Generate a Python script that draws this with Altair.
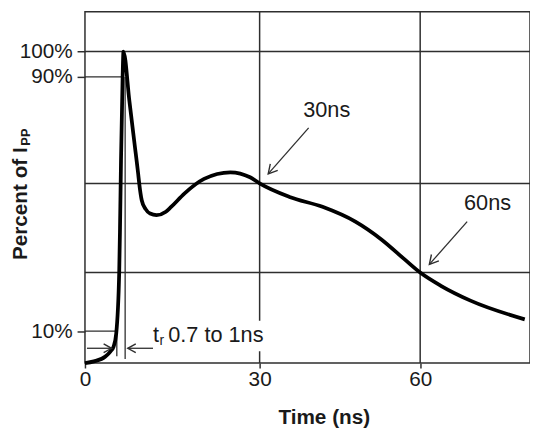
import altair as alt
import pandas as pd

# ---------------- data (time in ns, percent of Ipp) ----------------
curve_t = [0, 1.53, 3.51, 4.36, 4.92, 5.37, 5.88, 6.02, 6.19, 6.47, 6.61,
           7.64, 8.46, 9.14, 9.32, 9.75, 10.42, 11.19, 12.29, 13.9, 14.8,
           17.07, 20.46, 24.97, 28.36, 30, 35.59, 41.75, 47.89, 52.81, 57.10,
           60, 63.87, 69.39, 79.52]
curve_pct = [0, 0.53, 2.07, 3.62, 5.17, 9.29, 28.44, 42.5, 63.6, 90, 100,
             82.24, 69.8, 59.5, 56.48, 51.2, 48.4, 47.0, 46.54, 47.6, 49.1,
             53.28, 57.9, 59.98, 58.43, 56.48, 52.22, 49.12, 44.46, 38.78,
             32.57, 28.44, 24.28, 19.62, 13.73]

x_ticks = [0, 30, 60]
y_ticks = [10, 90, 100]
grid_t = [30, 60]
grid_pct = [28.44, 56.48, 100]

# annotation segments (x, y) -> (x2, y2)
seg_x = [0, 0, 6.9, 5.47, 0.34, 11.69, 39.16, 68.77]
seg_y = [90, 10, 90, 11.46, 4.64, 4.64, 73.96, 44.46]
seg_x2 = [6.47, 5.47, 6.9, 5.47, 4.58, 7.35, 31.6, 61.71]
seg_y2 = [90, 10, 1.24, 2.17, 4.64, 4.64, 59.49, 31.0]

# arrow heads
head_r_t, head_r_v = [4.58], [4.64]
head_l_t, head_l_v = [7.35], [4.64]
head_d_t, head_d_v = [31.6, 61.71], [59.49, 31.0]

# text annotations
note_labels = ["30ns", "60ns"]
note_t = [42.54, 72.58]
note_v = [77.3, 48.1]
rise_labels = ["t", "0.7 to 1ns"]
rise_t = [11.69, 14.3]
rise_v = [6.5, 6.5]
sub_labels = ["r"]
sub_t = [12.8]
sub_v = [5.6]
mask_t, mask_t2, mask_v, mask_v2 = [13.5], [31.3], [3.7], [13.3]

# ---------------- styling ----------------
FONT = "Liberation Sans"
INK = "#1a1a1a"
LINE = "#2e2e2e"
W, H = 451, 356

x_scale = alt.Scale(domain=[0, 30, 60, 80.5], range=[0, 177, 339.7, W],
                    nice=False, zero=False)
y_scale = alt.Scale(domain=[0, 10, 90, 100, 115.7],
                    range=[H, 323.7, 66, 40.3, 0], nice=False, zero=False)

x_axis = alt.Axis(values=x_ticks, grid=False, domain=False, tickSize=5,
                  tickColor=LINE, tickWidth=1.5, labelFont=FONT,
                  labelFontSize=21, labelColor=INK, labelPadding=1,
                  labelOverlap=False, labelFlush=False,
                  title="Time (ns)", titleFont=FONT, titleFontSize=21,
                  titleFontWeight="bold", titleColor=INK, titleX=242,
                  titleY=61, titleAlign="center", titleBaseline="alphabetic")
y_axis = alt.Axis(values=y_ticks, grid=False, domain=False, tickSize=8,
                  tickColor=LINE, tickWidth=1.5, labelFont=FONT,
                  labelFontSize=21, labelColor=INK, labelPadding=5,
                  labelExpr="datum.value + '%'", labelOverlap=False,
                  labelFlush=False,
                  title="Percent of I", titleFont=FONT, titleFontSize=21,
                  titleFontWeight="bold", titleColor=INK, titleAngle=270,
                  titleX=-59, titleY=194, titleAlign="center",
                  titleBaseline="alphabetic")


def X(f):
    return alt.X(f, type="quantitative", scale=x_scale, axis=x_axis)


def Y(f):
    return alt.Y(f, type="quantitative", scale=y_scale, axis=y_axis)


vgrid = alt.Chart(pd.DataFrame({"t": grid_t})).mark_rule(
    color=LINE, strokeWidth=1.5).encode(x=X("t"))
hgrid = alt.Chart(pd.DataFrame({"v": grid_pct})).mark_rule(
    color=LINE, strokeWidth=1.5).encode(y=Y("v"))

segs = alt.Chart(pd.DataFrame({"x": seg_x, "y": seg_y, "x2": seg_x2,
                               "y2": seg_y2})).mark_rule(
    color=LINE, strokeWidth=1.3).encode(x=X("x"), y=Y("y"),
                                        x2="x2", y2="y2")

chev_r = "M-1.8,-1L0,0L-1.8,1"
chev_l = "M1.8,-1L0,0L1.8,1"


def heads(ts, vs, shape, angle, size):
    return alt.Chart(pd.DataFrame({"t": ts, "v": vs})).mark_point(
        shape=shape, angle=angle, size=size, filled=False, opacity=1,
        stroke=LINE, strokeWidth=1.4).encode(x=X("t"), y=Y("v"))


head_r = heads(head_r_t, head_r_v, chev_r, 0, 81)
head_l = heads(head_l_t, head_l_v, chev_l, 0, 81)
head_d = heads(head_d_t, head_d_v, chev_r, 131, 100)

mask = alt.Chart(pd.DataFrame({"a": mask_t, "b": mask_t2, "c": mask_v,
                               "d": mask_v2})).mark_rect(
    color="white").encode(x=X("a"), x2="b", y=Y("c"), y2="d")

curve = alt.Chart(pd.DataFrame({"t": curve_t, "v": curve_pct})).mark_line(
    color="black", strokeWidth=3.8, interpolate="monotone").encode(
    x=X("t"), y=Y("v"), order="t:Q")

notes = alt.Chart(pd.DataFrame({"l": note_labels, "t": note_t,
                                "v": note_v})).mark_text(
    font=FONT, fontSize=22, color=INK, align="center",
    baseline="alphabetic").encode(x=X("t"), y=Y("v"), text="l")
rise = alt.Chart(pd.DataFrame({"l": rise_labels, "t": rise_t,
                               "v": rise_v})).mark_text(
    font=FONT, fontSize=22, color=INK, align="left",
    baseline="alphabetic").encode(x=X("t"), y=Y("v"), text="l")
sub = alt.Chart(pd.DataFrame({"l": sub_labels, "t": sub_t,
                              "v": sub_v})).mark_text(
    font=FONT, fontSize=14, color=INK, align="left",
    baseline="alphabetic").encode(x=X("t"), y=Y("v"), text="l")

ysub = alt.Chart(pd.DataFrame({"l": ["PP"]})).mark_text(
    font=FONT, fontSize=13, fontWeight="bold", color=INK, angle=270,
    align="center", baseline="alphabetic").encode(
    x=alt.value(-55.5), y=alt.value(127), text="l")

chart = alt.layer(vgrid, hgrid, segs, mask, curve, head_r, head_l, head_d,
                  notes, rise, sub, ysub).properties(
    width=W, height=H,
    padding={"left": 78, "top": 1, "right": 0, "bottom": 64},
    autosize=alt.AutoSizeParams(type="none"),
    background="white",
).configure_view(stroke=LINE, strokeWidth=1.5)

chart.save("out.html", embed_options={"renderer": "svg", "actions": False})
